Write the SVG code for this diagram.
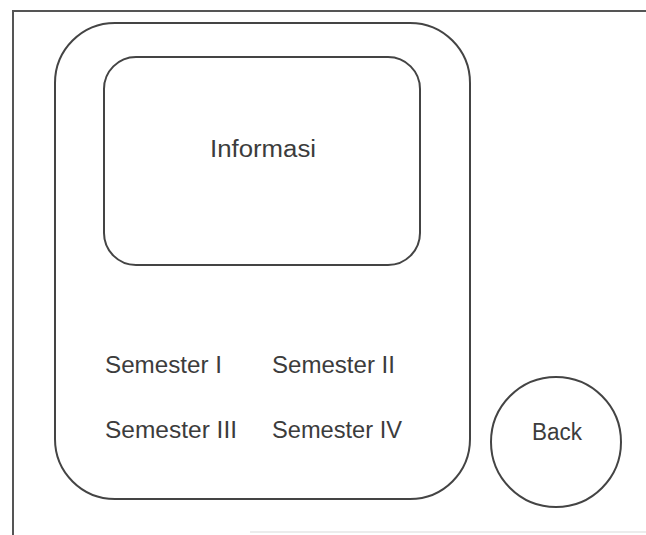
<svg xmlns="http://www.w3.org/2000/svg" width="646" height="535" viewBox="0 0 646 535">
  <style>
    .frame { fill: none; stroke: #555; stroke-width: 2; }
    .shape { fill: none; stroke: #444; stroke-width: 2; }
    .label { font-family: "Liberation Sans", Arial, sans-serif; fill: #3c3c3c; font-size: 23px; }
  </style>
  <rect width="646" height="535" fill="#ffffff"/>
  <!-- page frame -->
  <g id="frame">
    <path class="frame" d="M13 535 V11 H646"/>
    <line x1="250" y1="532" x2="646" y2="532" stroke="#ececec" stroke-width="2"/>
  </g>
  <!-- device body -->
  <g id="device">
    <rect class="shape" x="55" y="23" width="415" height="476" rx="60" ry="60"/>
  </g>
  <g id="informasi">
    <rect class="shape" x="104" y="57" width="316" height="208" rx="32" ry="32"/>
    <text class="label" x="263" y="157" text-anchor="middle" textLength="106" lengthAdjust="spacingAndGlyphs">Informasi</text>
  </g>
  <g id="semester-1">
    <text class="label" x="105" y="373" textLength="117" lengthAdjust="spacingAndGlyphs">Semester I</text>
  </g>
  <g id="semester-2">
    <text class="label" x="272" y="373" textLength="123" lengthAdjust="spacingAndGlyphs">Semester II</text>
  </g>
  <g id="semester-3">
    <text class="label" x="105" y="438" textLength="132" lengthAdjust="spacingAndGlyphs">Semester III</text>
  </g>
  <g id="semester-4">
    <text class="label" x="272" y="438" textLength="130" lengthAdjust="spacingAndGlyphs">Semester IV</text>
  </g>
  <g id="back">
    <circle class="shape" cx="556" cy="442" r="65"/>
    <text class="label" x="557" y="440" text-anchor="middle" textLength="50" lengthAdjust="spacingAndGlyphs">Back</text>
  </g>
  <g id="connectors"></g>
</svg>
